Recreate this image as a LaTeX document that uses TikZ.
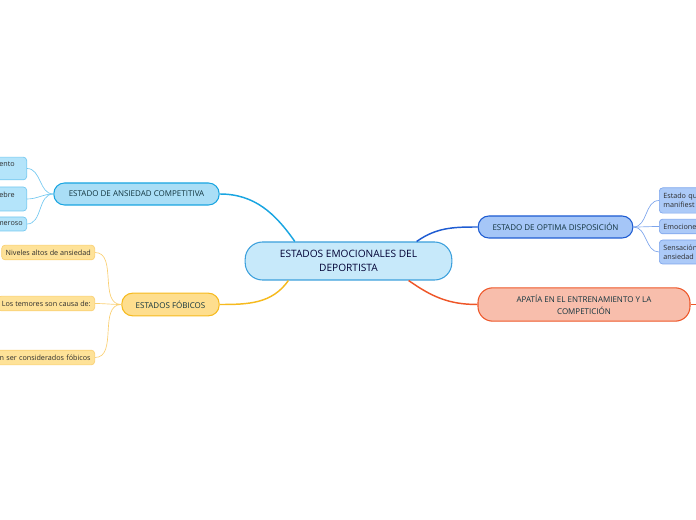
\documentclass[tikz,border=0pt]{standalone}
\usepackage{fontspec}
\setmainfont{Open Sans}
\usetikzlibrary{positioning}

\definecolor{centrefill}{RGB}{199,233,250}
\definecolor{centreline}{RGB}{60,160,220}
\definecolor{cyanfill}{RGB}{170,222,246}
\definecolor{cyanline}{RGB}{25,165,225}
\definecolor{cyanleaf}{RGB}{180,228,250}
\definecolor{cyanleafline}{RGB}{115,200,240}
\definecolor{yellowfill}{RGB}{254,222,142}
\definecolor{yellowline}{RGB}{246,186,30}
\definecolor{yellowleaf}{RGB}{254,226,152}
\definecolor{yellowleafline}{RGB}{250,208,115}
\definecolor{bluefill}{RGB}{165,198,247}
\definecolor{blueline}{RGB}{30,92,210}
\definecolor{blueleaf}{RGB}{172,202,248}
\definecolor{blueleafline}{RGB}{125,165,236}
\definecolor{redfill}{RGB}{248,190,172}
\definecolor{redline}{RGB}{238,86,40}
\definecolor{labeltext}{RGB}{18,52,62}
\definecolor{leaftext}{RGB}{45,45,45}

\tikzset{
  centre/.style={draw=centreline, fill=centrefill, line width=0.8pt, rounded corners=13pt,
    minimum width=155pt, minimum height=28.5pt, align=center, text=blue!20!black,
    font=\fontsize{7.6}{10.5}\selectfont},
  topic/.style={rounded corners=8pt, line width=0.8pt, minimum height=16.5pt, align=center,
    text=labeltext, font=\fontsize{6}{9}\selectfont},
  leaf/.style={rounded corners=2.5pt, line width=0.5pt, inner xsep=3pt, inner ysep=2pt,
    text=leaftext, font=\fontsize{5.4}{6.75}\selectfont},
  link/.style={line width=1.1pt},
  twig/.style={line width=0.5pt}
}

\begin{document}
\begin{tikzpicture}[x=0.75pt, y=-0.75pt]
\useasboundingbox (0,0) rectangle (696,520);

% centre
\node[centre] (centre) at (348.5,261) {ESTADOS EMOCIONALES DEL\\DEPORTISTA};

% main topics
\node[topic, draw=cyanline, fill=cyanfill, minimum width=124pt] (ansiedad) at (136.5,194) {ESTADO DE ANSIEDAD COMPETITIVA};
\node[topic, draw=yellowline, fill=yellowfill, minimum width=73pt, minimum height=17pt] (fobicos) at (170.5,304.5) {ESTADOS FÓBICOS};
\node[topic, draw=blueline, fill=bluefill, minimum width=116pt] (optima) at (555.5,227) {ESTADO DE OPTIMA DISPOSICIÓN};
\node[topic, draw=redline, fill=redfill, minimum width=159pt, minimum height=25pt, rounded corners=11pt] (apatia) at (584,304.5) {APATÍA EN EL ENTRENAMIENTO Y LA\\COMPETICIÓN};
\coordinate (apatiaout) at (700,304.5);

% leaves of ansiedad
\node[leaf, draw=cyanleafline, fill=cyanleaf, anchor=east, text width=50pt, minimum height=17pt, align=right] (ans1) at (27,168.5) {\mbox{iento\kern6pt}\\\mbox{}};
\node[leaf, draw=cyanleafline, fill=cyanleaf, anchor=east, text width=50pt, minimum height=18pt, align=right] (ans2) at (27,199) {\mbox{ebre\kern6pt}\\\mbox{}};
\node[leaf, draw=cyanleafline, fill=cyanleaf, anchor=east, text width=50pt, minimum height=10.5pt, align=right] (ans3) at (27,224) {meroso};

% leaves of fobicos
\node[leaf, draw=yellowleafline, fill=yellowleaf, anchor=east, minimum height=11pt] (fob1) at (95,252.5) {Niveles altos de ansiedad};
\node[leaf, draw=yellowleafline, fill=yellowleaf, anchor=east, minimum height=11pt] (fob2) at (95,303.5) {Los temores son causa de:};
\node[leaf, draw=yellowleafline, fill=yellowleaf, anchor=east, minimum height=11pt, text width=80pt, align=right] (fob3) at (95,357.5) {en ser considerados fóbicos};

% leaves of optima
\node[leaf, draw=blueleafline, fill=blueleaf, anchor=west, text width=50pt, minimum height=19pt, align=left] (opt1) at (659,200.5) {Estado qu\\manifiest};
\node[leaf, draw=blueleafline, fill=blueleaf, anchor=west, text width=50pt, minimum height=11pt, align=left] (opt2) at (659,226.5) {Emocione};
\node[leaf, draw=blueleafline, fill=blueleaf, anchor=west, text width=50pt, minimum height=18pt, align=left] (opt3) at (659,252) {Sensación\\ansiedad};

% links
\draw[link, cyanline] (ansiedad.east) to[out=0, in=125] (centre.160);
\draw[link, yellowline] (fobicos.east) to[out=0, in=235] (centre.198);
\draw[link, blueline] (centre.16) to[out=35, in=180] (optima.west);
\draw[link, redline] (centre.-18) to[out=-35, in=180] (apatia.west);
\draw[link, redline] (apatia.east) -- (apatiaout);

\foreach \leafname in {ans1, ans2, ans3}
  \draw[twig, cyanleafline] (ansiedad.west) to[out=180, in=0] (\leafname.east);
\foreach \leafname in {fob1, fob2, fob3}
  \draw[twig, yellowleafline] (fobicos.west) to[out=180, in=0] (\leafname.east);
\foreach \leafname in {opt1, opt2, opt3}
  \draw[twig, blueleafline] (optima.east) to[out=0, in=180] (\leafname.west);
\end{tikzpicture}
\end{document}
